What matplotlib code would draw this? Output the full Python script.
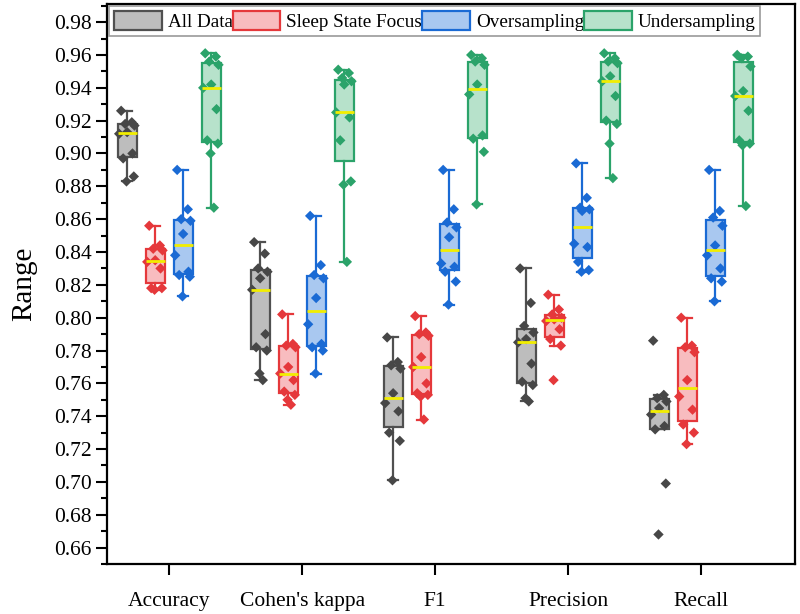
import matplotlib
matplotlib.use("Agg")
import matplotlib.pyplot as plt
from matplotlib.patches import Patch
from matplotlib.ticker import MultipleLocator

plt.rcParams['font.family'] = ['Liberation Serif', 'DejaVu Serif']

metrics = ["Accuracy", "Cohen's kappa", "F1", "Precision", "Recall"]
methods = ["All Data", "Sleep State Focus", "Oversampling", "Undersampling"]

# per-fold scores, one list per metric
all_data = [
    [0.926, 0.919, 0.918, 0.917, 0.913, 0.912, 0.900, 0.897, 0.886, 0.883],
    [0.846, 0.839, 0.830, 0.828, 0.824, 0.817, 0.790, 0.782, 0.780, 0.766, 0.762],
    [0.788, 0.773, 0.771, 0.769, 0.754, 0.748, 0.743, 0.730, 0.725, 0.701],
    [0.830, 0.809, 0.795, 0.791, 0.787, 0.785, 0.772, 0.761, 0.759, 0.751, 0.749],
    [0.786, 0.753, 0.751, 0.749, 0.745, 0.741, 0.734, 0.732, 0.699, 0.668],
]
sleep_focus = [
    [0.856, 0.844, 0.842, 0.841, 0.835, 0.834, 0.830, 0.818, 0.818, 0.817],
    [0.802, 0.784, 0.783, 0.782, 0.770, 0.766, 0.762, 0.755, 0.753, 0.750, 0.747],
    [0.801, 0.791, 0.790, 0.789, 0.776, 0.770, 0.760, 0.754, 0.753, 0.752, 0.738],
    [0.814, 0.805, 0.802, 0.800, 0.799, 0.798, 0.793, 0.787, 0.783, 0.762],
    [0.800, 0.783, 0.782, 0.779, 0.762, 0.752, 0.744, 0.735, 0.730, 0.723],
]
oversampling = [
    [0.890, 0.866, 0.860, 0.859, 0.851, 0.838, 0.828, 0.826, 0.825, 0.813],
    [0.862, 0.832, 0.826, 0.824, 0.812, 0.796, 0.784, 0.782, 0.780, 0.766],
    [0.890, 0.866, 0.858, 0.855, 0.849, 0.833, 0.831, 0.828, 0.822, 0.808],
    [0.894, 0.873, 0.867, 0.866, 0.865, 0.845, 0.843, 0.834, 0.829, 0.828],
    [0.890, 0.865, 0.861, 0.856, 0.844, 0.838, 0.830, 0.824, 0.822, 0.810],
]
undersampling = [
    [0.961, 0.959, 0.956, 0.954, 0.942, 0.940, 0.927, 0.908, 0.906, 0.900, 0.867],
    [0.951, 0.949, 0.946, 0.944, 0.942, 0.925, 0.922, 0.908, 0.883, 0.881, 0.834],
    [0.960, 0.958, 0.956, 0.954, 0.942, 0.936, 0.911, 0.909, 0.901, 0.869],
    [0.961, 0.958, 0.956, 0.955, 0.947, 0.944, 0.935, 0.920, 0.918, 0.906, 0.885],
    [0.960, 0.959, 0.958, 0.953, 0.938, 0.935, 0.926, 0.908, 0.906, 0.905, 0.868],
]
series = [all_data, sleep_focus, oversampling, undersampling]

edge_colors = ["#505050", "#e5383b", "#1a6ad4", "#2ba36a"]
face_colors = ["#bdbdbd", "#f8bcbf", "#a9c8f0", "#b7e2cb"]
point_colors = ["#474747", "#e5383b", "#1a6ad4", "#2ba36a"]
offsets = [-0.316, -0.105, 0.105, 0.316]
box_w = 0.143
jitter = [-0.045, 0.035, -0.015, 0.055, 0.0, -0.06, 0.04, -0.03, 0.05, -0.005, 0.02]

fig = plt.figure(figsize=(8, 6.14), dpi=100)
ax = fig.add_axes([0.134, 0.0814, 0.86, 0.912])

for s, data in enumerate(series):
    for g, vals in enumerate(data):
        pos = g + 1 + offsets[s]
        ax.boxplot(vals, positions=[pos], widths=box_w, whis=1.5, showfliers=False,
                   patch_artist=True, capwidths=0.07,
                   boxprops=dict(facecolor=face_colors[s], edgecolor=edge_colors[s], linewidth=1.6),
                   whiskerprops=dict(color=edge_colors[s], linewidth=1.6),
                   capprops=dict(color=edge_colors[s], linewidth=1.6),
                   medianprops=dict(color="#f2ee00", linewidth=2, zorder=4))
        xs = [pos + jitter[i % len(jitter)] for i in range(len(vals))]
        ax.scatter(xs, vals, marker='D', s=28, color=point_colors[s], edgecolors='none', zorder=3)

ax.set_xlim(0.534, 5.707)
ax.set_ylim(0.65, 0.991)
ax.set_xticks(range(1, 6))
ax.set_xticklabels(metrics, fontsize=15.5)
ax.yaxis.set_minor_locator(MultipleLocator(0.01))
ax.set_yticks([0.66 + 0.02 * i for i in range(17)])
ax.set_yticklabels([f"{0.66 + 0.02 * i:.2f}" for i in range(17)], fontsize=15.5)
ax.tick_params(axis='both', which='major', direction='out', length=8, width=1.5, pad=3)
ax.tick_params(axis='y', which='minor', direction='out', length=4, width=1.5)
ax.tick_params(axis='x', which='major', pad=12)
ax.set_ylabel("Range", fontsize=21, labelpad=12)
for sp in ax.spines.values():
    sp.set_linewidth(1.6)

handles = [Patch(facecolor=face_colors[i], edgecolor=edge_colors[i], linewidth=1.6, label=methods[i])
           for i in range(4)]
leg = ax.legend(handles=handles, ncol=4, loc='upper left', bbox_to_anchor=(0.0, 1.0),
                borderaxespad=0.1, frameon=True, fancybox=False, edgecolor='#808080',
                handlelength=2.5, handleheight=1.2, handletextpad=0.3, columnspacing=0.0,
                borderpad=0.25, fontsize=13.8)
leg.get_frame().set_linewidth(1.2)

fig.savefig("out.png", dpi=100)
